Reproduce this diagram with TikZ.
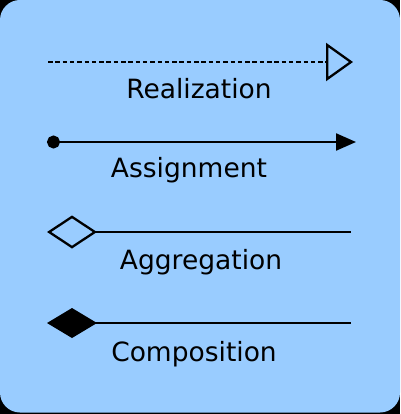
\documentclass[tikz,border=0pt]{standalone}
\usepackage{fontspec}
\setmainfont{DejaVu Sans}
\usetikzlibrary{arrows.meta}
\definecolor{panel}{RGB}{153,204,255}
\begin{document}
\begin{tikzpicture}[x=1pt,y=-1pt,
  conn/.style={line width=2.3pt,black},
  lbl/.style={anchor=base,inner sep=0pt,font=\fontsize{26.5}{30}\selectfont}]
\fill[black] (0,0) rectangle (400,414);
\useasboundingbox (0,0) rectangle (400,414);
\fill[panel,rounded corners=20pt] (0,0) rectangle (400,412.5);
% Realization
\coordinate (r1) at (48,62);
\coordinate (r2) at (353,62);
\draw[conn,dash pattern=on 4.5pt off 2.8pt,-{Triangle[open,length=27pt,width=38pt]}] (r1) -- (r2);
\node[lbl] (rl) at (199,99) {Realization};
% Assignment
\coordinate (a1) at (47,142);
\coordinate (a2) at (356,142);
\draw[conn,{Circle[length=13pt]}-{Triangle[length=20pt,width=17pt]}] (a1) -- (a2);
\node[lbl] (al) at (189,177) {Assignment};
% Aggregation
\coordinate (g1) at (47,232);
\coordinate (g2) at (351,232);
\draw[conn,{Diamond[open,length=50pt,width=33pt]}-] (g1) -- (g2);
\node[lbl] (gl) at (201,269) {Aggregation};
% Composition
\coordinate (c1) at (47,323);
\coordinate (c2) at (351,323);
\draw[conn,{Diamond[length=50pt,width=30pt]}-] (c1) -- (c2);
\node[lbl] (cl) at (194,361) {Composition};
\end{tikzpicture}
\end{document}
